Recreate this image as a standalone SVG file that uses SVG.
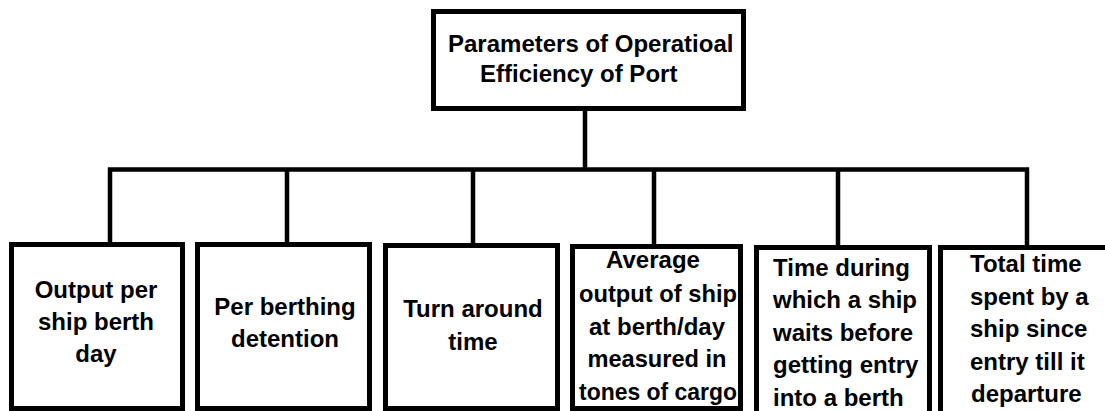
<svg xmlns="http://www.w3.org/2000/svg" width="1105" height="411" viewBox="0 0 1105 411">
<style>
.box{fill:#fff;stroke:#000;stroke-width:5}
.ln{fill:none;stroke:#000;stroke-width:4.5}
text{font-family:"Liberation Sans",Arial,sans-serif;font-weight:bold;font-size:24px;fill:#000}
.m{text-anchor:middle}
</style>
<rect width="1105" height="411" fill="#fff"/>
<g id="connectors">
<path class="ln" d="M585 111 V169.5 M107.8 169.5 H1029.2 M110 169.5 V243 M287 169.5 V243 M473 169.5 V244 M654 169.5 V245 M838 169.5 V246 M1027 169.5 V246"/>
</g>
<g id="root">
<rect class="box" x="433.5" y="11.5" width="310" height="97"/>
<text x="448" y="52">Parameters of Operatioal</text>
<text x="480" y="82">Efficiency of Port</text>
</g>
<g id="n1">
<rect class="box" x="11.5" y="244.5" width="171" height="164"/>
<text class="m" x="96" y="298">Output per</text>
<text class="m" x="96" y="330">ship berth</text>
<text class="m" x="96" y="362">day</text>
</g>
<g id="n2">
<rect class="box" x="197.5" y="244.5" width="172" height="164"/>
<text class="m" x="285" y="315">Per berthing</text>
<text class="m" x="285" y="347">detention</text>
</g>
<g id="n3">
<rect class="box" x="385.5" y="245.5" width="172" height="163"/>
<text class="m" x="473" y="317">Turn around</text>
<text class="m" x="473" y="350">time</text>
</g>
<g id="n4">
<rect class="box" x="572.5" y="246.5" width="168" height="162"/>
<text class="m" x="653" y="268">Average</text>
<text class="m" x="658" y="301.5" textLength="158" lengthAdjust="spacingAndGlyphs">output of ship</text>
<text class="m" x="657" y="334.5">at berth/day</text>
<text class="m" x="657" y="367" textLength="139" lengthAdjust="spacingAndGlyphs">measured in</text>
<text class="m" x="658" y="400" textLength="158" lengthAdjust="spacingAndGlyphs">tones of cargo</text>
</g>
<g id="n5">
<rect class="box" x="756.5" y="247.5" width="173" height="170"/>
<text x="773" y="275.5">Time during</text>
<text x="773" y="308">which a ship</text>
<text x="773" y="340.5">waits before</text>
<text x="773" y="373">getting entry</text>
<text x="773" y="405.5">into a berth</text>
</g>
<g id="n6">
<rect class="box" x="940.5" y="247.5" width="200" height="170"/>
<text x="970" y="272">Total time</text>
<text x="970" y="304.5">spent by a</text>
<text x="970" y="337">ship since</text>
<text x="970" y="369.5">entry till it</text>
<text x="971" y="402">departure</text>
</g>
</svg>
